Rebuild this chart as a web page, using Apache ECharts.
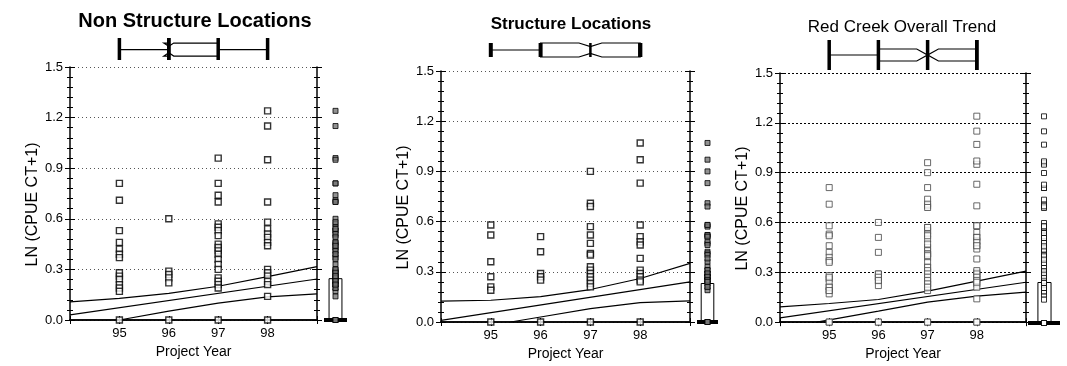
<!DOCTYPE html>
<html>
<head>
<meta charset="utf-8">
<script src="https://cdn.jsdelivr.net/npm/echarts@6/dist/echarts.min.js"></script>
<style>
  html, body { margin: 0; padding: 0; background: #fff; }
  #chart { width: 1067px; height: 366px; }
</style>
</head>
<body>
<div id="chart"></div>
<script>
    // data
    var years = [95, 96, 97, 98];

    // Non Structure Locations, LN(CPUE CT+1) per project year
    var nonStr95 = [0.81, 0.71, 0.53, 0.46, 0.42, 0.39, 0.37, 0.28, 0.26, 0.24, 0.21, 0.19, 0.17, 0];
    var nonStr96 = [0.60, 0.29, 0.27, 0.25, 0.22, 0];
    var nonStr97 = [0.96, 0.81, 0.74, 0.70, 0.57, 0.55, 0.53, 0.50, 0.45, 0.43, 0.41, 0.39, 0.36, 0.33, 0.30, 0.25, 0.23, 0.21, 0.19, 0];
    var nonStr98 = [1.24, 1.15, 0.95, 0.70, 0.58, 0.54, 0.51, 0.49, 0.46, 0.44, 0.30, 0.28, 0.26, 0.23, 0.21, 0.14, 0];

    // Structure Locations
    var str95 = [0.58, 0.52, 0.36, 0.27, 0.21, 0.19, 0];
    var str96 = [0.51, 0.42, 0.29, 0.27, 0.25, 0];
    var str97 = [0.90, 0.71, 0.69, 0.57, 0.52, 0.47, 0.41, 0.40, 0.33, 0.31, 0.29, 0.27, 0.25, 0.23, 0.21, 0];
    var str98 = [1.07, 0.97, 0.83, 0.58, 0.51, 0.48, 0.46, 0.38, 0.31, 0.29, 0.27, 0.25, 0.24, 0];

    // Red Creek overall = both groups together
    var all95 = nonStr95.concat(str95);
    var all96 = nonStr96.concat(str96);
    var all97 = nonStr97.concat(str97);
    var all98 = nonStr98.concat(str98);

    // trend line + confidence band, [year, value]
    var nsUpper = [[94, 0.108], [95, 0.128], [96, 0.158], [97, 0.200], [98, 0.257], [99, 0.316]];
    var nsFit = [[94, 0.030], [99, 0.243]];
    var nsLower = [[95, 0], [96, 0.053], [97, 0.100], [98, 0.137], [99, 0.155]];

    var stUpper = [[94, 0.125], [95, 0.130], [96, 0.152], [97, 0.194], [98, 0.260], [99, 0.350]];
    var stFit = [[94, 0.010], [99, 0.240]];
    var stLower = [[95.4, 0], [96, 0.030], [97, 0.080], [98, 0.116], [99, 0.126]];

    var allUpper = [[94, 0.092], [95, 0.112], [96, 0.136], [97, 0.186], [98, 0.247], [99, 0.307]];
    var allFit = [[94, 0.026], [99, 0.240]];
    var allLower = [[94.75, 0], [96, 0.066], [97, 0.120], [98, 0.156], [99, 0.180]];

    // box plot of project year (min, q1, median, q3, max)
    var nsYearBox = [95, 96, 96, 97, 98];
    var stYearBox = [95, 96, 97, 98, 98];
    var allYearBox = [95, 96, 97, 98, 98];

    // box plot of the response on the right (q1, median, q3)
    var nsRespBox = [0, 0, 0.245];
    var stRespBox = [0, 0, 0.23];
    var allRespBox = [0, 0, 0.243];

    var FONT = '"Liberation Sans", Arial, sans-serif';

    var panels = [
        {
            title: 'Non Structure Locations', titleX: 190, titleTop: 6, titleSize: 20, titleWeight: 'bold',
            left: 70, right: 317, top: 67, bottom: 320,
            stripTop: 38, stripBottom: 60, band: [0.18, 0.77], notchW: 0.1, notchDepth: 0.5, capW: 3.5, medW: 3.5,
            rugL: 324, rugR: 347, rugBox: [0.22, 0.78],
            byYear: [nonStr95, nonStr96, nonStr97, nonStr98],
            upper: nsUpper, fit: nsFit, lower: nsLower, yearBox: nsYearBox, respBox: nsRespBox,
            gridColor: '#555', gridType: [1, 3], markColor: '#000', markW: 1.4, rugFill: '#777'
        },
        {
            title: 'Structure Locations', titleX: 566, titleTop: 11, titleSize: 17, titleWeight: 'bold',
            left: 441, right: 690, top: 71, bottom: 322,
            stripTop: 43, stripBottom: 57, band: [0, 1], notchW: 0.23, notchDepth: 0.5, capW: 4, medW: 2.5,
            rugL: 697, rugR: 718, rugBox: [0.2, 0.8],
            byYear: [str95, str96, str97, str98],
            upper: stUpper, fit: stFit, lower: stLower, yearBox: stYearBox, respBox: stRespBox,
            gridColor: '#555', gridType: [1, 3], markColor: '#000', markW: 1.4, rugFill: '#777'
        },
        {
            title: 'Red Creek Overall Trend', titleX: 897, titleTop: 14, titleSize: 17, titleWeight: 'normal',
            left: 780, right: 1026, top: 73, bottom: 323,
            stripTop: 40, stripBottom: 70, band: [0.3, 0.7], notchW: 0.22, notchDepth: 1, capW: 3.5, medW: 3.5,
            rugL: 1028, rugR: 1060, rugBox: [0.31, 0.72],
            byYear: [all95, all96, all97, all98],
            upper: allUpper, fit: allFit, lower: allLower, yearBox: allYearBox, respBox: allRespBox,
            gridColor: '#000', gridType: [2, 2], markColor: '#444', markW: 1, rugFill: '#fff'
        }
    ];

    function seg(p, q, w) {
        return { type: 'line', shape: { x1: p[0], y1: p[1], x2: q[0], y2: q[1] }, style: { stroke: '#000', lineWidth: w } };
    }

    // notched horizontal box of project year
    function yearBoxRender(pn) {
        return function (params, api) {
            var lo = api.value(0), q1 = api.value(1), md = api.value(2), q3 = api.value(3), hi = api.value(4);
            var c = function (x, y) { return api.coord([x, y]); };
            var b0 = pn.band[0], b1 = pn.band[1], mid = (b0 + b1) / 2;
            var n0 = mid - (mid - b0) * (1 - pn.notchDepth);
            var n1 = mid + (b1 - mid) * (1 - pn.notchDepth);
            var kids = [];
            if (lo < q1) kids.push(seg(c(lo, mid), c(q1, mid), 1.2));
            if (hi > q3) kids.push(seg(c(q3, mid), c(hi, mid), 1.2));
            kids.push({
                type: 'polygon',
                shape: { points: [c(q1, b1), c(md - pn.notchW, b1), c(md, n1), c(md + pn.notchW, b1), c(q3, b1),
                                  c(q3, b0), c(md + pn.notchW, b0), c(md, n0), c(md - pn.notchW, b0), c(q1, b0)] },
                style: { fill: '#fff', stroke: '#000', lineWidth: 1.2 }
            });
            [lo, q1, q3, hi].forEach(function (v) { kids.push(seg(c(v, 0), c(v, 1), pn.capW)); });
            kids.push(seg(c(md, 0), c(md, 1), pn.medW));
            return { type: 'group', children: kids };
        };
    }

    // vertical box of the response, right of each plot
    function respBoxRender(pn) {
        return function (params, api) {
            var q1 = api.value(0), md = api.value(1), q3 = api.value(2);
            var a = api.coord([pn.rugBox[0], q3]);
            var b = api.coord([pn.rugBox[1], q1]);
            return {
                type: 'group',
                children: [
                    { type: 'rect', shape: { x: a[0], y: a[1], width: b[0] - a[0], height: b[1] - a[1] },
                      style: { fill: '#fff', stroke: '#000', lineWidth: 1 } },
                    seg(api.coord([0, md]), api.coord([1, md]), 4)
                ]
            };
        };
    }

    var grid = [], xAxis = [], yAxis = [], series = [], title = [];

    panels.forEach(function (pn) {
        var gMain = grid.length, gStrip = gMain + 1, gRug = gMain + 2;
        grid.push({ left: pn.left, top: pn.top, width: pn.right - pn.left, height: pn.bottom - pn.top });
        grid.push({ left: pn.left, top: pn.stripTop, width: pn.right - pn.left, height: pn.stripBottom - pn.stripTop });
        grid.push({ left: pn.rugL, top: pn.top, width: pn.rugR - pn.rugL, height: pn.bottom - pn.top });

        title.push({
            text: pn.title, left: pn.titleX, top: pn.titleTop, textAlign: 'center',
            textStyle: { fontFamily: FONT, fontSize: pn.titleSize, fontWeight: pn.titleWeight, color: '#000' }
        });

        var xMain = xAxis.length;
        xAxis.push({
            type: 'value', gridIndex: gMain, position: 'bottom', min: 94, max: 99, interval: 1,
            axisLine: { lineStyle: { color: '#000', width: 1.5 } },
            axisTick: { length: 4, lineStyle: { color: '#000' } },
            axisLabel: { color: '#000', fontSize: 13, margin: 7, fontFamily: FONT,
                formatter: function (v) { return (v >= 95 && v <= 98) ? String(v) : ''; } },
            splitLine: { show: false },
            name: 'Project Year', nameLocation: 'middle', nameGap: 19,
            nameTextStyle: { color: '#000', fontSize: 14, fontFamily: FONT }
        });
        [false, true].forEach(function (inside) {
            xAxis.push({
                type: 'value', gridIndex: gMain, position: 'top', min: 94, max: 99, interval: 1,
                axisLine: { show: !inside, lineStyle: { color: '#000', width: 1.5 } },
                axisTick: { inside: inside, length: 4, lineStyle: { color: '#000' } },
                axisLabel: { show: false }, splitLine: { show: false }
            });
        });
        var xStrip = xAxis.length;
        xAxis.push({ type: 'value', gridIndex: gStrip, min: 94, max: 99, show: false });
        var xRug = xAxis.length;
        xAxis.push({ type: 'value', gridIndex: gRug, min: 0, max: 1, show: false });

        var yMain = yAxis.length;
        ['left', 'right'].forEach(function (side) {
            [false, true].forEach(function (inside) {
                var first = side === 'left' && !inside;
                yAxis.push({
                    type: 'value', gridIndex: gMain, position: side, min: 0, max: 1.5, interval: 0.3,
                    axisLine: { show: !inside, lineStyle: { color: '#000', width: 1.5 } },
                    axisTick: { inside: inside, length: 5, lineStyle: { color: '#000' } },
                    minorTick: { show: true, splitNumber: 5, length: 3, lineStyle: { color: '#000' } },
                    axisLabel: { show: first, color: '#000', fontSize: 13, margin: 7, fontFamily: FONT,
                        formatter: function (v) { return v.toFixed(1); } },
                    splitLine: { show: first, lineStyle: { color: pn.gridColor, type: pn.gridType, width: 1 } },
                    name: first ? 'LN (CPUE CT+1)' : '',
                    nameLocation: 'middle', nameGap: 27,
                    nameTextStyle: { color: '#000', fontSize: 16, fontFamily: FONT, padding: [0, 22, 0, 0] }
                });
            });
        });
        var yStrip = yAxis.length;
        yAxis.push({ type: 'value', gridIndex: gStrip, min: 0, max: 1, show: false });
        var yRug = yAxis.length;
        yAxis.push({ type: 'value', gridIndex: gRug, min: 0, max: 1.5, show: false });

        // trend lines
        [pn.upper, pn.fit, pn.lower].forEach(function (d) {
            series.push({
                type: 'line', xAxisIndex: xMain, yAxisIndex: yMain, data: d, showSymbol: false,
                lineStyle: { color: '#000', width: 1.2 }, silent: true, z: 3
            });
        });

        // points
        var pts = [], rug = [];
        years.forEach(function (yr, i) {
            pn.byYear[i].forEach(function (v) { pts.push([yr, v]); rug.push([0.5, v]); });
        });
        series.push({
            type: 'scatter', xAxisIndex: xMain, yAxisIndex: yMain, data: pts,
            symbol: 'rect', symbolSize: 6, z: 4,
            itemStyle: { color: '#fff', borderColor: pn.markColor, borderWidth: pn.markW }
        });

        // year box on top
        series.push({
            type: 'custom', xAxisIndex: xStrip, yAxisIndex: yStrip, data: [pn.yearBox],
            renderItem: yearBoxRender(pn), silent: true
        });

        // response box + rug on the right
        series.push({
            type: 'custom', xAxisIndex: xRug, yAxisIndex: yRug, data: [pn.respBox],
            renderItem: respBoxRender(pn), silent: true, z: 2
        });
        series.push({
            type: 'scatter', xAxisIndex: xRug, yAxisIndex: yRug, data: rug,
            symbol: 'rect', symbolSize: 5, z: 4,
            itemStyle: { color: pn.rugFill, borderColor: '#000', borderWidth: 1 }
        });
    });

    var myChart = echarts.init(document.getElementById('chart'));
    var option = {
        animation: false,
        backgroundColor: '#fff',
        textStyle: { fontFamily: FONT },
        title: title,
        grid: grid,
        xAxis: xAxis,
        yAxis: yAxis,
        series: series
    };
    myChart.setOption(option);
</script>
</body>
</html>
